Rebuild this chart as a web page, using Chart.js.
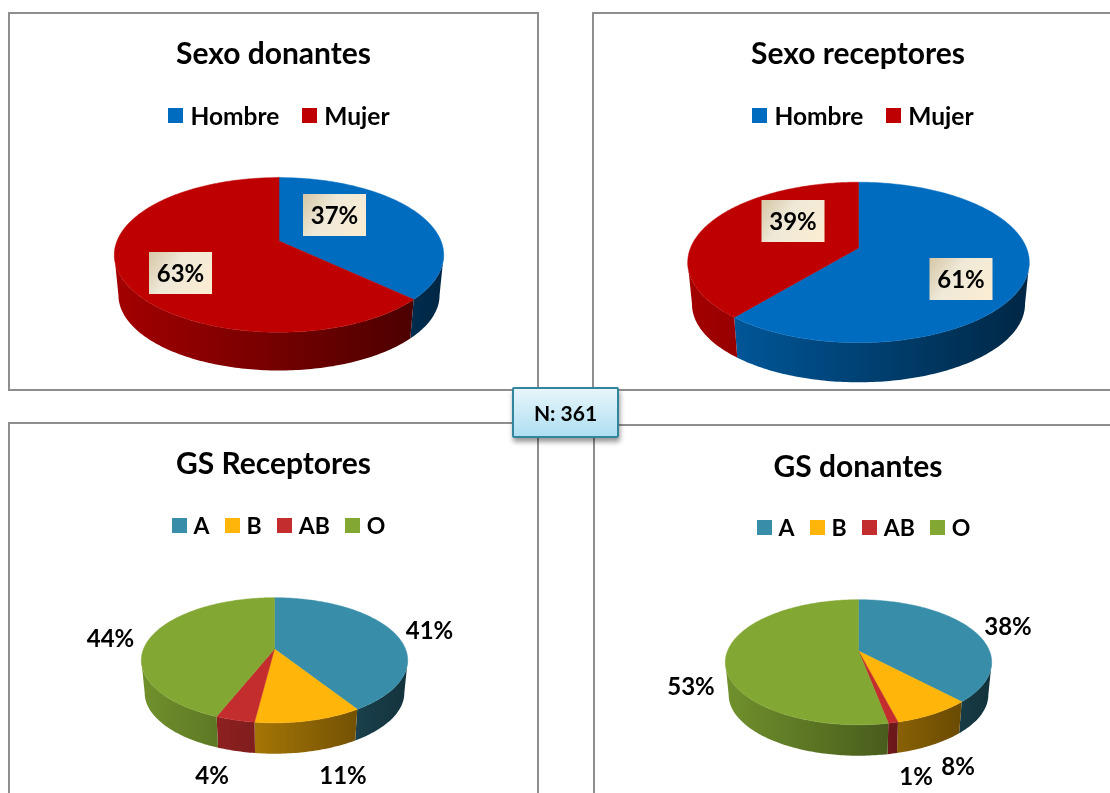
<!DOCTYPE html>
<html>
<head>
<meta charset="utf-8">
<title>Sexo y grupo sanguíneo</title>
<script src="https://cdn.jsdelivr.net/npm/chart.js@4"></script>
<style>
  html, body { margin: 0; padding: 0; background: #fff; }
  body { position: relative; width: 1110px; height: 793px; overflow: hidden; font-family: Lato, sans-serif; color: #000; }
  .panel { position: absolute; box-sizing: border-box; border: 2px solid #8e8e8e; background: #fff; }
  canvas { position: absolute; }
  .legend { position: absolute; display: flex; justify-content: center; align-items: center; font-weight: bold; height: 30px; }
  .legend span.box { display: inline-block; width: 15px; height: 15px; margin-right: 7px; }
  .legend .item { display: flex; align-items: center; }
  #nbox {
    position: absolute; left: 512px; top: 387px; width: 107px; height: 51px; box-sizing: border-box;
    border: 2px solid #31859c; border-radius: 2px; text-align: center; line-height: 47px;
    font-weight: bold; font-size: 21px; background: linear-gradient(#e8f5fb, #aedff1);
    box-shadow: 1px 4px 5px rgba(0, 0, 0, 0.4);
  }
</style>
</head>
<body>
<div class="panel" style="left:8px;top:12px;width:531px;height:379px"></div>
<div class="panel" style="left:592px;top:12px;width:560px;height:379px"></div>
<div class="panel" style="left:8px;top:422px;width:531px;height:420px"></div>
<div class="panel" style="left:593px;top:424px;width:560px;height:420px"></div>
<canvas id="c1" width="540" height="377" style="left:9px;top:13px"></canvas>
<canvas id="c2" width="531" height="377" style="left:593px;top:13px"></canvas>
<canvas id="c3" width="531" height="377" style="left:9px;top:423px"></canvas>
<canvas id="c4" width="531" height="377" style="left:593px;top:425px"></canvas>
<div id="nbox">N: 361</div>
<script>
const sexoLabels = ["Hombre", "Mujer"];
const gsLabels = ["A", "B", "AB", "O"];
const sexoDonantes = [37, 63];
const sexoReceptores = [61, 39];
const gsReceptores = [41, 11, 4, 44];
const gsDonantes = [38, 8, 1, 53];
const sexoColors = ["#006cbf", "#be0000"];
const gsColors = ["#388ea8", "#ffb509", "#c42d2d", "#82a733"];

// tilt of the pie plane
const TILT = 0.462;
const PERSPECTIVE = 0.18;
const WALL = 0.25;
const WALL_SHRINK = 0.975;

function shade(hex, f) {
  const n = parseInt(hex.slice(1), 16);
  const r = Math.round(((n >> 16) & 255) * f);
  const g = Math.round(((n >> 8) & 255) * f);
  const b = Math.round((n & 255) * f);
  return `rgb(${r},${g},${b})`;
}

function project(arc, angle, scale, drop) {
  const R = arc.outerRadius;
  const u = Math.cos(angle);
  const v = Math.sin(angle);
  const d = 1 - PERSPECTIVE * v;
  return {
    x: arc.x + (R * scale * u) / d,
    y: arc.y + drop + (R * TILT * scale * v) / d,
  };
}

function arcPoints(arc, from, to, scale, drop) {
  const pts = [];
  const steps = Math.max(4, Math.ceil((to - from) * 60));
  for (let i = 0; i <= steps; i++) {
    pts.push(project(arc, from + ((to - from) * i) / steps, scale, drop));
  }
  return pts;
}

function drawWall(ctx, arc, color) {
  // only the front part of the rim shows, the top face hides the rest
  const widest = Math.asin(PERSPECTIVE);
  const from = Math.max(arc.startAngle, widest);
  const to = Math.min(arc.endAngle, Math.PI - widest);
  if (to <= from) return;

  const R = arc.outerRadius;
  const top = arcPoints(arc, from, to, 1, 0);
  const bottom = arcPoints(arc, from, to, WALL_SHRINK, R * WALL).reverse();
  const grad = ctx.createLinearGradient(arc.x - R, 0, arc.x + R, 0);
  grad.addColorStop(0, shade(color, 0.86));
  grad.addColorStop(1, shade(color, 0.36));
  ctx.beginPath();
  top.concat(bottom).forEach((p, i) => (i ? ctx.lineTo(p.x, p.y) : ctx.moveTo(p.x, p.y)));
  ctx.closePath();
  ctx.fillStyle = grad;
  ctx.fill();
}

function drawTop(ctx, arc, color) {
  ctx.beginPath();
  ctx.moveTo(arc.x, arc.y);
  arcPoints(arc, arc.startAngle, arc.endAngle, 1, 0).forEach((p) => ctx.lineTo(p.x, p.y));
  ctx.closePath();
  ctx.fillStyle = color;
  ctx.strokeStyle = color;
  ctx.lineWidth = 0.5;
  ctx.fill();
  ctx.stroke();
}

function drawLabel(ctx, text, x, y, boxed) {
  if (boxed) {
    const grad = ctx.createLinearGradient(x - 31, y - 21, x + 31, y + 21);
    grad.addColorStop(0, "#d6c7a6");
    grad.addColorStop(0.4, "#efe9d8");
    grad.addColorStop(1, "#fcedd2");
    ctx.fillStyle = grad;
    ctx.fillRect(x - 31.5, y - 21, 63, 42);
  }
  ctx.fillStyle = "#000";
  ctx.font = "bold 24px Lato";
  ctx.textAlign = "center";
  ctx.textBaseline = "middle";
  ctx.fillText(text, x, y + 1);
}

const pie3d = {
  id: "pie3d",
  afterLayout(chart, args, opts) {
    chart.titleBlock.left += opts.titleShift;
    chart.titleBlock.right += opts.titleShift;
  },
  beforeDatasetDraw(chart, args, opts) {
    const { ctx } = chart;
    const arcs = args.meta.data;
    const colors = chart.data.datasets[0].backgroundColor;
    const values = chart.data.datasets[0].data;
    ctx.save();
    arcs.forEach((arc, i) => drawWall(ctx, arc, colors[i]));
    arcs.forEach((arc, i) => drawTop(ctx, arc, colors[i]));
    arcs.forEach((arc, i) => {
      const [dx, dy] = opts.labelOffsets[i];
      drawLabel(ctx, `${values[i]}%`, arc.x + dx, arc.y + dy, opts.boxed);
    });
    ctx.restore();
    return false;
  },
};

function createPie(canvasId, title, labels, data, colors, opts) {
  new Chart(document.getElementById(canvasId), {
    type: "pie",
    data: {
      labels: labels,
      datasets: [{ data: data, backgroundColor: colors, borderWidth: 0, radius: opts.radius }],
    },
    options: {
      responsive: false,
      animation: false,
      plugins: {
        legend: { display: false },
        tooltip: { enabled: false },
        title: {
          display: true,
          text: title,
          color: "#000",
          font: { family: "Lato", size: 30, weight: "bold" },
          padding: { top: opts.titleTop, bottom: opts.titleGap },
        },
        pie3d: {
          titleShift: opts.titleShift,
          labelOffsets: opts.labelOffsets,
          boxed: opts.boxed,
        },
      },
    },
    plugins: [pie3d],
  });
}

// html legend, chart.js fixes the box to text gap at half the font size
function addLegend(labels, colors, centerX, centerY, fontSize, gap) {
  const el = document.createElement("div");
  el.className = "legend";
  el.style.left = centerX - 250 + "px";
  el.style.width = "500px";
  el.style.top = centerY - 15 + "px";
  el.style.fontSize = fontSize + "px";
  el.style.gap = gap + "px";
  labels.forEach((label, i) => {
    const item = document.createElement("div");
    item.className = "item";
    item.innerHTML = `<span class="box" style="background:${colors[i]}"></span>${label}`;
    el.appendChild(item);
  });
  document.body.appendChild(el);
}

createPie("c1", "Sexo donantes", sexoLabels, sexoDonantes, sexoColors, {
  radius: 162, titleTop: 23.2, titleGap: 19.8, titleShift: -5.5, boxed: true,
  labelOffsets: [[55.5, -26], [-98.5, 32]],
});
createPie("c2", "Sexo receptores", sexoLabels, sexoReceptores, sexoColors, {
  radius: 168, titleTop: 23.2, titleGap: 33.8, titleShift: -0.5, boxed: true,
  labelOffsets: [[102.5, 31], [-65.5, -27]],
});
createPie("c3", "GS Receptores", gsLabels, gsReceptores, gsColors, {
  radius: 131, titleTop: 23.2, titleGap: 15.8, titleShift: -1, boxed: false,
  labelOffsets: [[155, -19], [68.5, 126], [-62.5, 126], [-164, -11]],
});
createPie("c4", "GS donantes", gsLabels, gsDonantes, gsColors, {
  radius: 131, titleTop: 24.2, titleGap: 14.8, titleShift: -0.5, boxed: false,
  labelOffsets: [[149.5, -25], [99.5, 115], [57.5, 125], [-167.5, 35]],
});

addLegend(sexoLabels, sexoColors, 279, 115, 24.5, 23);
addLegend(sexoLabels, sexoColors, 863, 115, 24.5, 23);
addLegend(gsLabels, gsColors, 278.5, 525, 23, 15);
addLegend(gsLabels, gsColors, 863.5, 527, 23, 15);
</script>
</body>
</html>
